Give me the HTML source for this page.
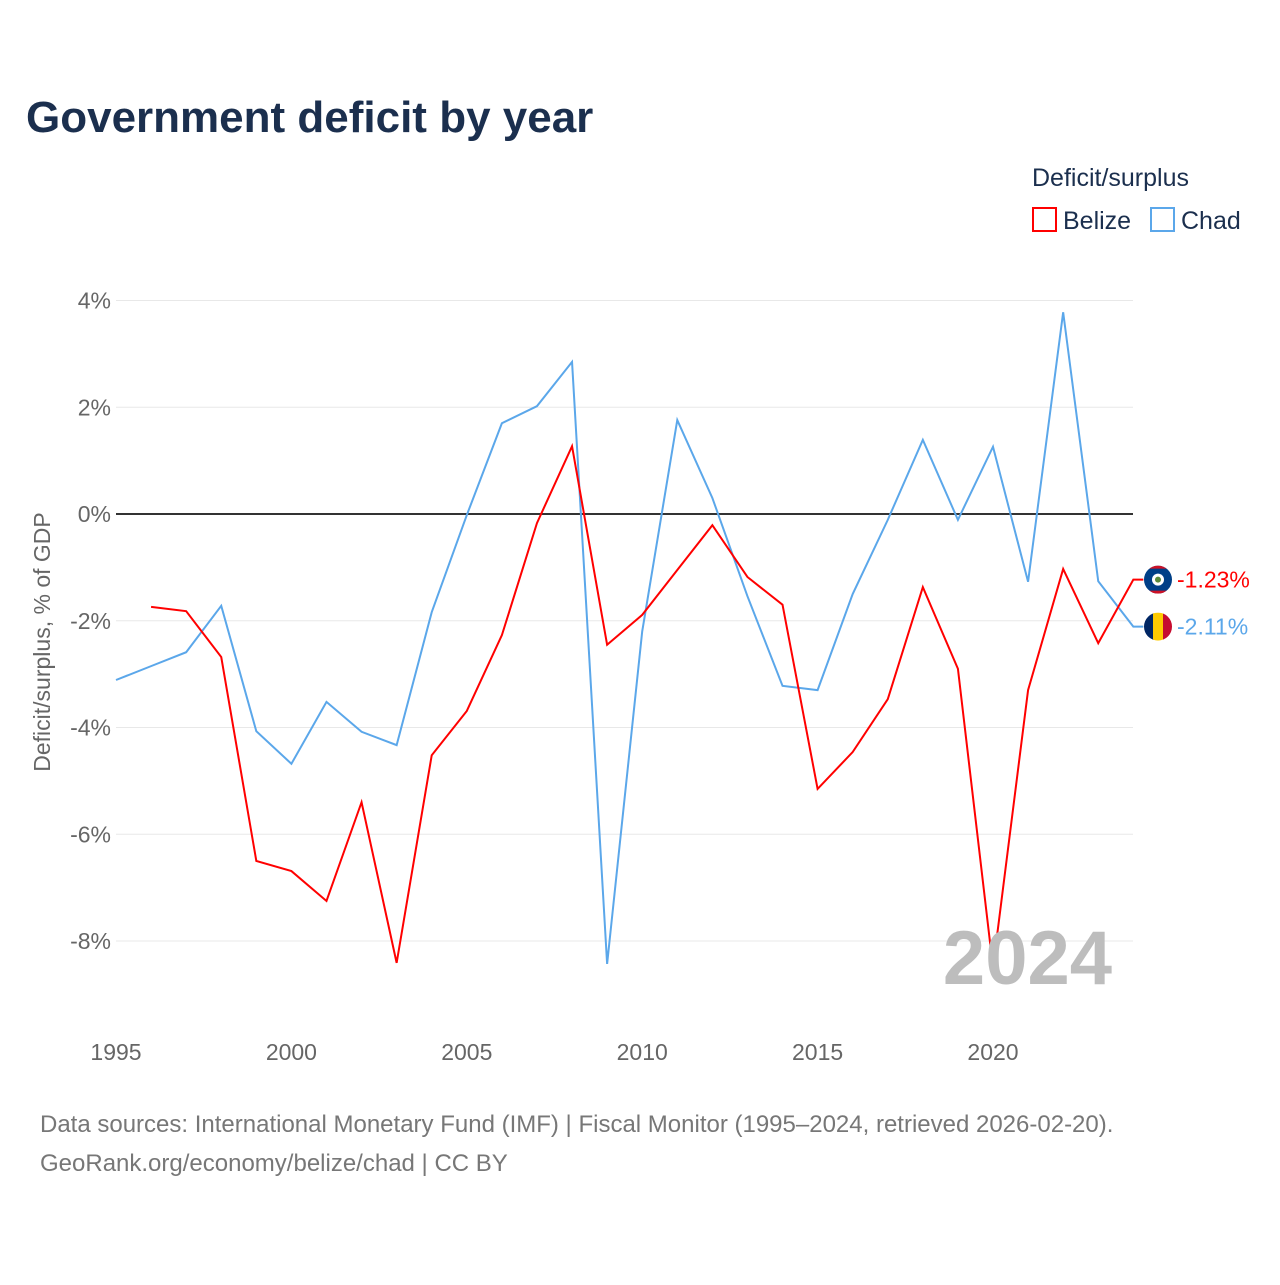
<!DOCTYPE html>
<html><head><meta charset="utf-8"><style>
body{margin:0;background:#fff;font-family:"Liberation Sans",sans-serif;}
</style></head><body>
<svg width="1280" height="1280" xmlns="http://www.w3.org/2000/svg">
<defs>
<clipPath id="cb"><circle cx="0" cy="0" r="14"/></clipPath>
</defs>
<text x="26" y="132" font-size="44" font-weight="bold" fill="#1b2f4e">Government deficit by year</text>
<text x="1032" y="186" font-size="25" fill="#1b2f4e">Deficit/surplus</text>
<g><rect x="1033" y="208" width="23" height="23" fill="none" stroke="#ff0000" stroke-width="2"/><text x="1063" y="229" font-size="25" fill="#1b2f4e">Belize</text></g>
<g><rect x="1151" y="208" width="23" height="23" fill="none" stroke="#5ba7ea" stroke-width="2"/><text x="1181" y="229" font-size="25" fill="#1b2f4e">Chad</text></g>
<g id="grid"></g><g id="axes"></g><g id="series"></g>
<text x="1112" y="984" font-size="76" font-weight="bold" fill="#bdbdbd" text-anchor="end">2024</text>
<text transform="translate(50,642) rotate(-90)" font-size="23" fill="#666" text-anchor="middle">Deficit/surplus, % of GDP</text>
<text x="40" y="1132" font-size="24" fill="#777">Data sources: International Monetary Fund (IMF) | Fiscal Monitor (1995–2024, retrieved 2026-02-20).</text>
<text x="40" y="1171" font-size="24" fill="#777">GeoRank.org/economy/belize/chad | CC BY</text>
</svg>
<script>
const years=[1995,1996,1997,1998,1999,2000,2001,2002,2003,2004,2005,2006,2007,2008,2009,2010,2011,2012,2013,2014,2015,2016,2017,2018,2019,2020,2021,2022,2023,2024];
const belize=[null,-1.74,-1.82,-2.68,-6.5,-6.69,-7.25,-5.4,-8.41,-4.52,-3.69,-2.27,-0.17,1.27,-2.45,-1.89,-1.05,-0.21,-1.18,-1.70,-5.15,-4.46,-3.47,-1.37,-2.90,-8.5,-3.30,-1.03,-2.42,-1.23];
const chad=[-3.11,-2.85,-2.59,-1.72,-4.07,-4.68,-3.52,-4.08,-4.33,-1.84,-0.02,1.70,2.02,2.85,-8.43,-2.2,1.76,0.30,-1.54,-3.22,-3.30,-1.50,-0.11,1.39,-0.11,1.26,-1.27,3.78,-1.26,-2.11];
const yTicks=[4,2,0,-2,-4,-6,-8];
const xTicks=[1995,2000,2005,2010,2015,2020];
const X=y=>116+(y-1995)*35.08, Y=v=>514-v*53.375;
const NS="http://www.w3.org/2000/svg";
function mk(p,t,a){const e=document.createElementNS(NS,t);for(const k in a)e.setAttribute(k,a[k]);(typeof p==='string'?document.getElementById(p):p).appendChild(e);return e;}
yTicks.forEach(v=>{
 const l=mk('grid','line',{x1:116,x2:1133,y1:Y(v),y2:Y(v),stroke:v===0?'#333':'#e8e8e8','stroke-width':v===0?2:1});
 
 
 const t=mk('axes','text',{x:111,y:Y(v)+8,'font-size':23,fill:'#666','text-anchor':'end'});
 t.textContent=v+'%';
 
 
});
xTicks.forEach(v=>{
 const t=mk('axes','text',{x:X(v),y:1060,'font-size':23,fill:'#666','text-anchor':'middle'});
 t.textContent=v;
 
 
});
function line(vals,color,name,flag){
 let d='';vals.forEach((v,i)=>{if(v===null)return;d+=(d?'L':'M')+X(years[i])+','+Y(v);});
 d+='L'+(X(2024)+10)+','+Y(vals[vals.length-1]);
 const p=mk('series','path',{d:d,fill:'none',stroke:color,'stroke-width':2});
 
 
 const last=vals[vals.length-1];
 const g=mk('series','g',{transform:'translate(1158,'+Y(last)+')','clip-path':'url(#cb)'});
 
 
 flag.forEach(r=>mk(g,r[0],r[1]));
 const t=mk('series','text',{x:1177,y:Y(last)+8,'font-size':23,fill:color});
 t.textContent=last.toFixed(2)+'%';
 
 
}
line(chad,'#5ba7ea','chad',[
 ['rect',{x:-14,y:-14,width:10,height:28,fill:'#002664'}],
 ['rect',{x:-5,y:-14,width:10,height:28,fill:'#fecb00'}],
 ['rect',{x:5,y:-14,width:10,height:28,fill:'#c60c30'}]]);
line(belize,'#ff0000','belize',[
 ['rect',{x:-14,y:-14,width:28,height:28,fill:'#003f87'}],
 ['rect',{x:-14,y:-14,width:28,height:3,fill:'#ce1126'}],
 ['rect',{x:-14,y:11,width:28,height:3,fill:'#ce1126'}],
 ['circle',{cx:0,cy:0,r:6,fill:'#fff'}],
 ['circle',{cx:0,cy:0,r:3,fill:'#5a8a3a'}]]);
</script>
</body></html>
